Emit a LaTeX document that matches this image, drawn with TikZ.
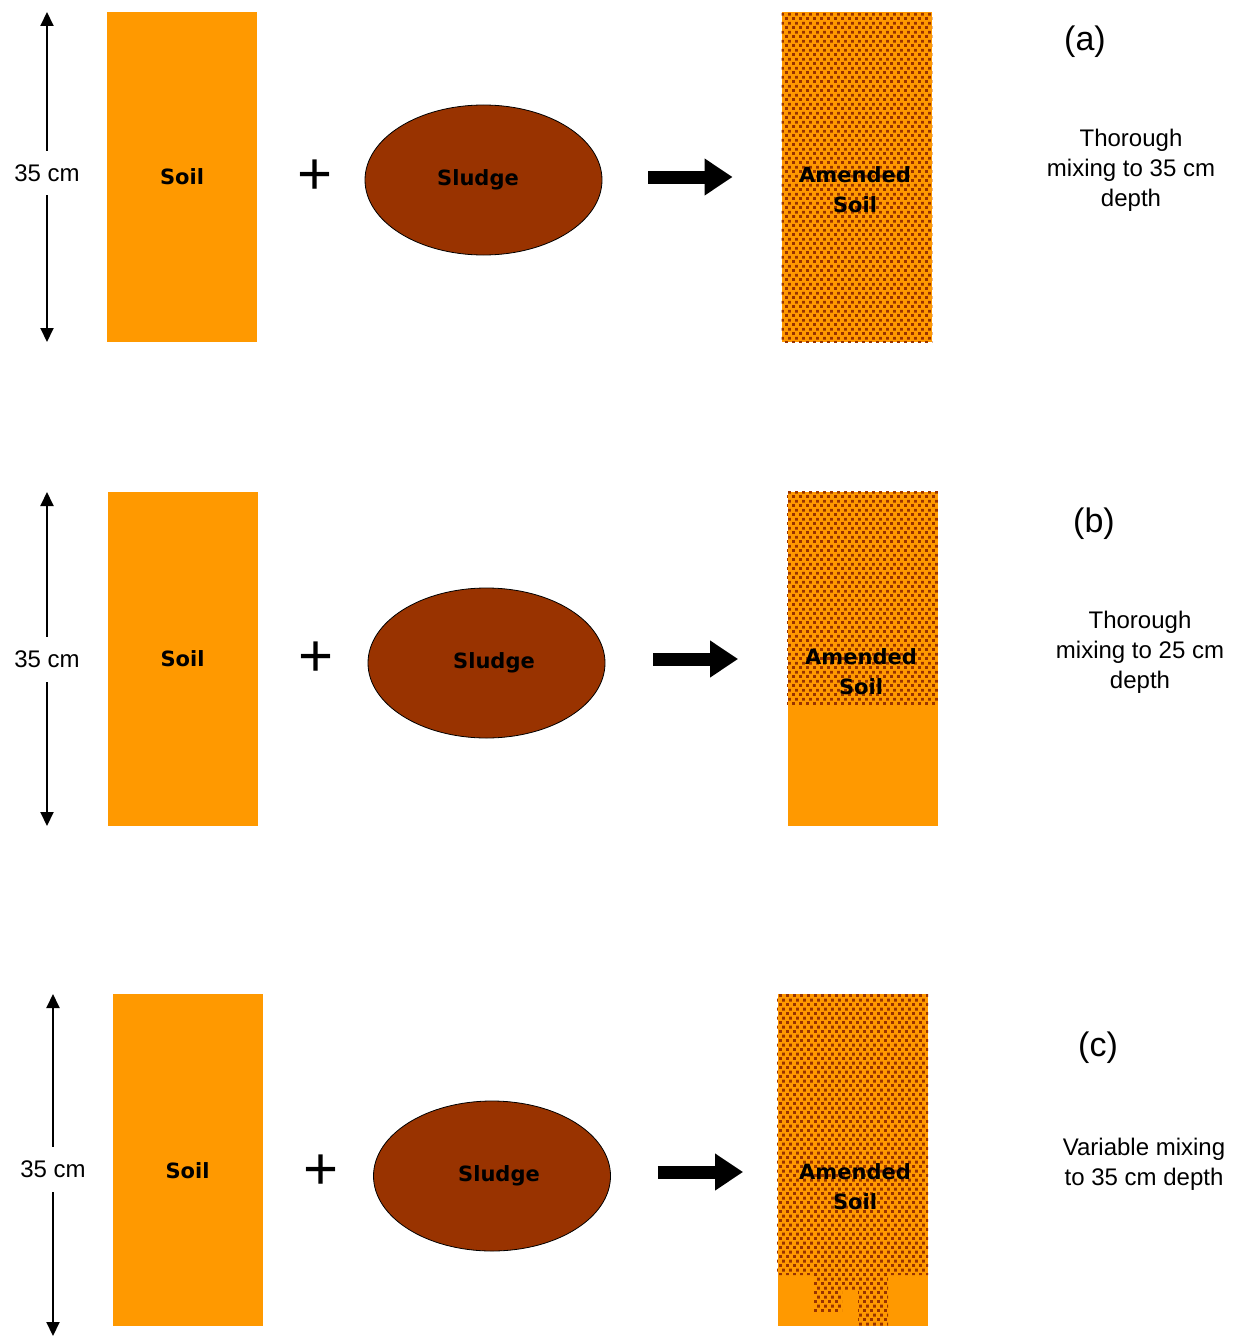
\documentclass[tikz,border=0pt]{standalone}
\usepackage{fontspec}
\setmainfont{Liberation Sans}
\newfontfamily\boxfont{DejaVu Sans}
\usetikzlibrary{arrows.meta,patterns,shapes.geometric}
\definecolor{soil}{HTML}{FF9900}
\definecolor{sludge}{HTML}{993300}
% small squares, staggered, for the mixed soil
\pgfdeclarepatternformonly{soildots}{\pgfpointorigin}{\pgfpoint{3.3pt}{4.4pt}}{\pgfpoint{3.3pt}{4.4pt}}{
    \pgfpathrectangle{\pgfpoint{0pt}{0pt}}{\pgfpoint{1.5pt}{1.5pt}}
    \pgfpathrectangle{\pgfpoint{1.65pt}{2.2pt}}{\pgfpoint{1.5pt}{1.5pt}}
    \pgfusepath{fill}}
\begin{document}
\begin{tikzpicture}[x=0.5pt, y=-0.5pt,
    boxtext/.style={align=center, font=\boxfont\bfseries\fontsize{10.5}{15}\selectfont},
    soilbox/.style={rectangle, fill=soil, minimum width=75pt, inner sep=0pt, boxtext},
    sludgeblob/.style={ellipse, draw, thin, fill=sludge, minimum width=118.5pt, minimum height=75pt, inner sep=0pt, boxtext},
    mixed/.style={pattern=soildots, pattern color=sludge},
    depth/.style={{Triangle[length=7pt,width=6.5pt]}-{Triangle[length=7pt,width=6.5pt]}, line width=1pt},
    bigarrow/.style={-{Triangle[length=14pt,width=17.5pt]}, line width=6.5pt},
    note/.style={align=center, font=\fontsize{12}{15}\selectfont},
    tag/.style={font=\fontsize{17}{20}\selectfont},
    plus/.style={font=\fontsize{30}{30}\selectfont}]
    \useasboundingbox (0,0) rectangle (1247,1338);

    % (a)
    \coordinate (topa) at (47,12);
    \coordinate (bota) at (47,342);
    \draw[depth] (topa) -- node[fill=white, note, inner ysep=7pt, yshift=2pt] {35 cm} (bota);
    \node[soilbox, minimum height=165pt] (soila) at (182,177) {Soil};
    \node[plus] (plusa) at (315,177) {+};
    \node[sludgeblob] (sludgea) at (483.5,180) {\hspace*{-5.5pt}Sludge};
    \node[soilbox, minimum height=165pt] (amendeda) at (857,177) {};
    \fill[mixed] (amendeda.north west) rectangle (amendeda.south east);
    \node[boxtext] (mixa) at (855,190) {Amended\\Soil};
    \draw[bigarrow, shorten <=23pt, shorten >=24.5pt] (sludgea.east |- amendeda.west) -- (amendeda.west);
    \node[tag] (taga) at (1085,42) {(a)};
    \node[note] (notea) at (1131,170) {Thorough\\mixing to 35 cm\\depth};

    % (b)
    \coordinate (topb) at (47,492);
    \coordinate (botb) at (47,826);
    \draw[depth] (topb) -- node[fill=white, note, inner ysep=7pt] {35 cm} (botb);
    \node[soilbox, minimum height=167pt] (soilb) at (182.5,659) {Soil};
    \node[plus] (plusb) at (316,659) {+};
    \node[sludgeblob] (sludgeb) at (486.5,663) {\hspace*{7.5pt}Sludge};
    \node[soilbox, minimum height=167pt] (amendedb) at (862.5,659) {};
    \fill[mixed] (amendedb.north west) rectangle ([yshift=-107pt]amendedb.north east);
    \node[boxtext] (mixb) at (861,672) {Amended\\Soil};
    \draw[bigarrow, shorten <=24pt, shorten >=24.5pt] (sludgeb.east |- amendedb.west) -- (amendedb.west);
    \node[tag] (tagb) at (1094,524) {(b)};
    \node[note] (noteb) at (1140,652) {Thorough\\mixing to 25 cm\\depth};

    % (c)
    \coordinate (topc) at (53,994);
    \coordinate (botc) at (53,1336);
    \draw[depth] (topc) -- node[fill=white, note, inner ysep=7pt, yshift=-2pt] {35 cm} (botc);
    \node[soilbox, minimum height=166pt, label={[boxtext, yshift=-5.5pt]center:Soil}] (soilc) at (187.5,1160) {};
    \node[plus] (plusc) at (321,1172) {+};
    \node[sludgeblob] (sludgec) at (492,1176) {\hspace*{7pt}Sludge};
    \node[soilbox, minimum height=166pt] (amendedc) at (852.5,1160) {};
    \fill[mixed] (777,994) -- (928,994) -- (928,1275) -- (888,1275) -- (888,1326) -- (858,1326)
        -- (858,1290) -- (842,1290) -- (842,1312) -- (813,1312) -- (813,1275) -- (777,1275) -- cycle;
    \node[boxtext] (mixc) at (855,1187) {Amended\\Soil};
    \draw[bigarrow, shorten <=23.5pt, shorten >=17pt] (sludgec.east |- 0,1172) -- (amendedc.west |- 0,1172);
    \node[tag] (tagc) at (1098,1048) {(c)};
    \node[note] (notec) at (1144,1164) {Variable mixing\\to 35 cm depth};
\end{tikzpicture}
\end{document}
